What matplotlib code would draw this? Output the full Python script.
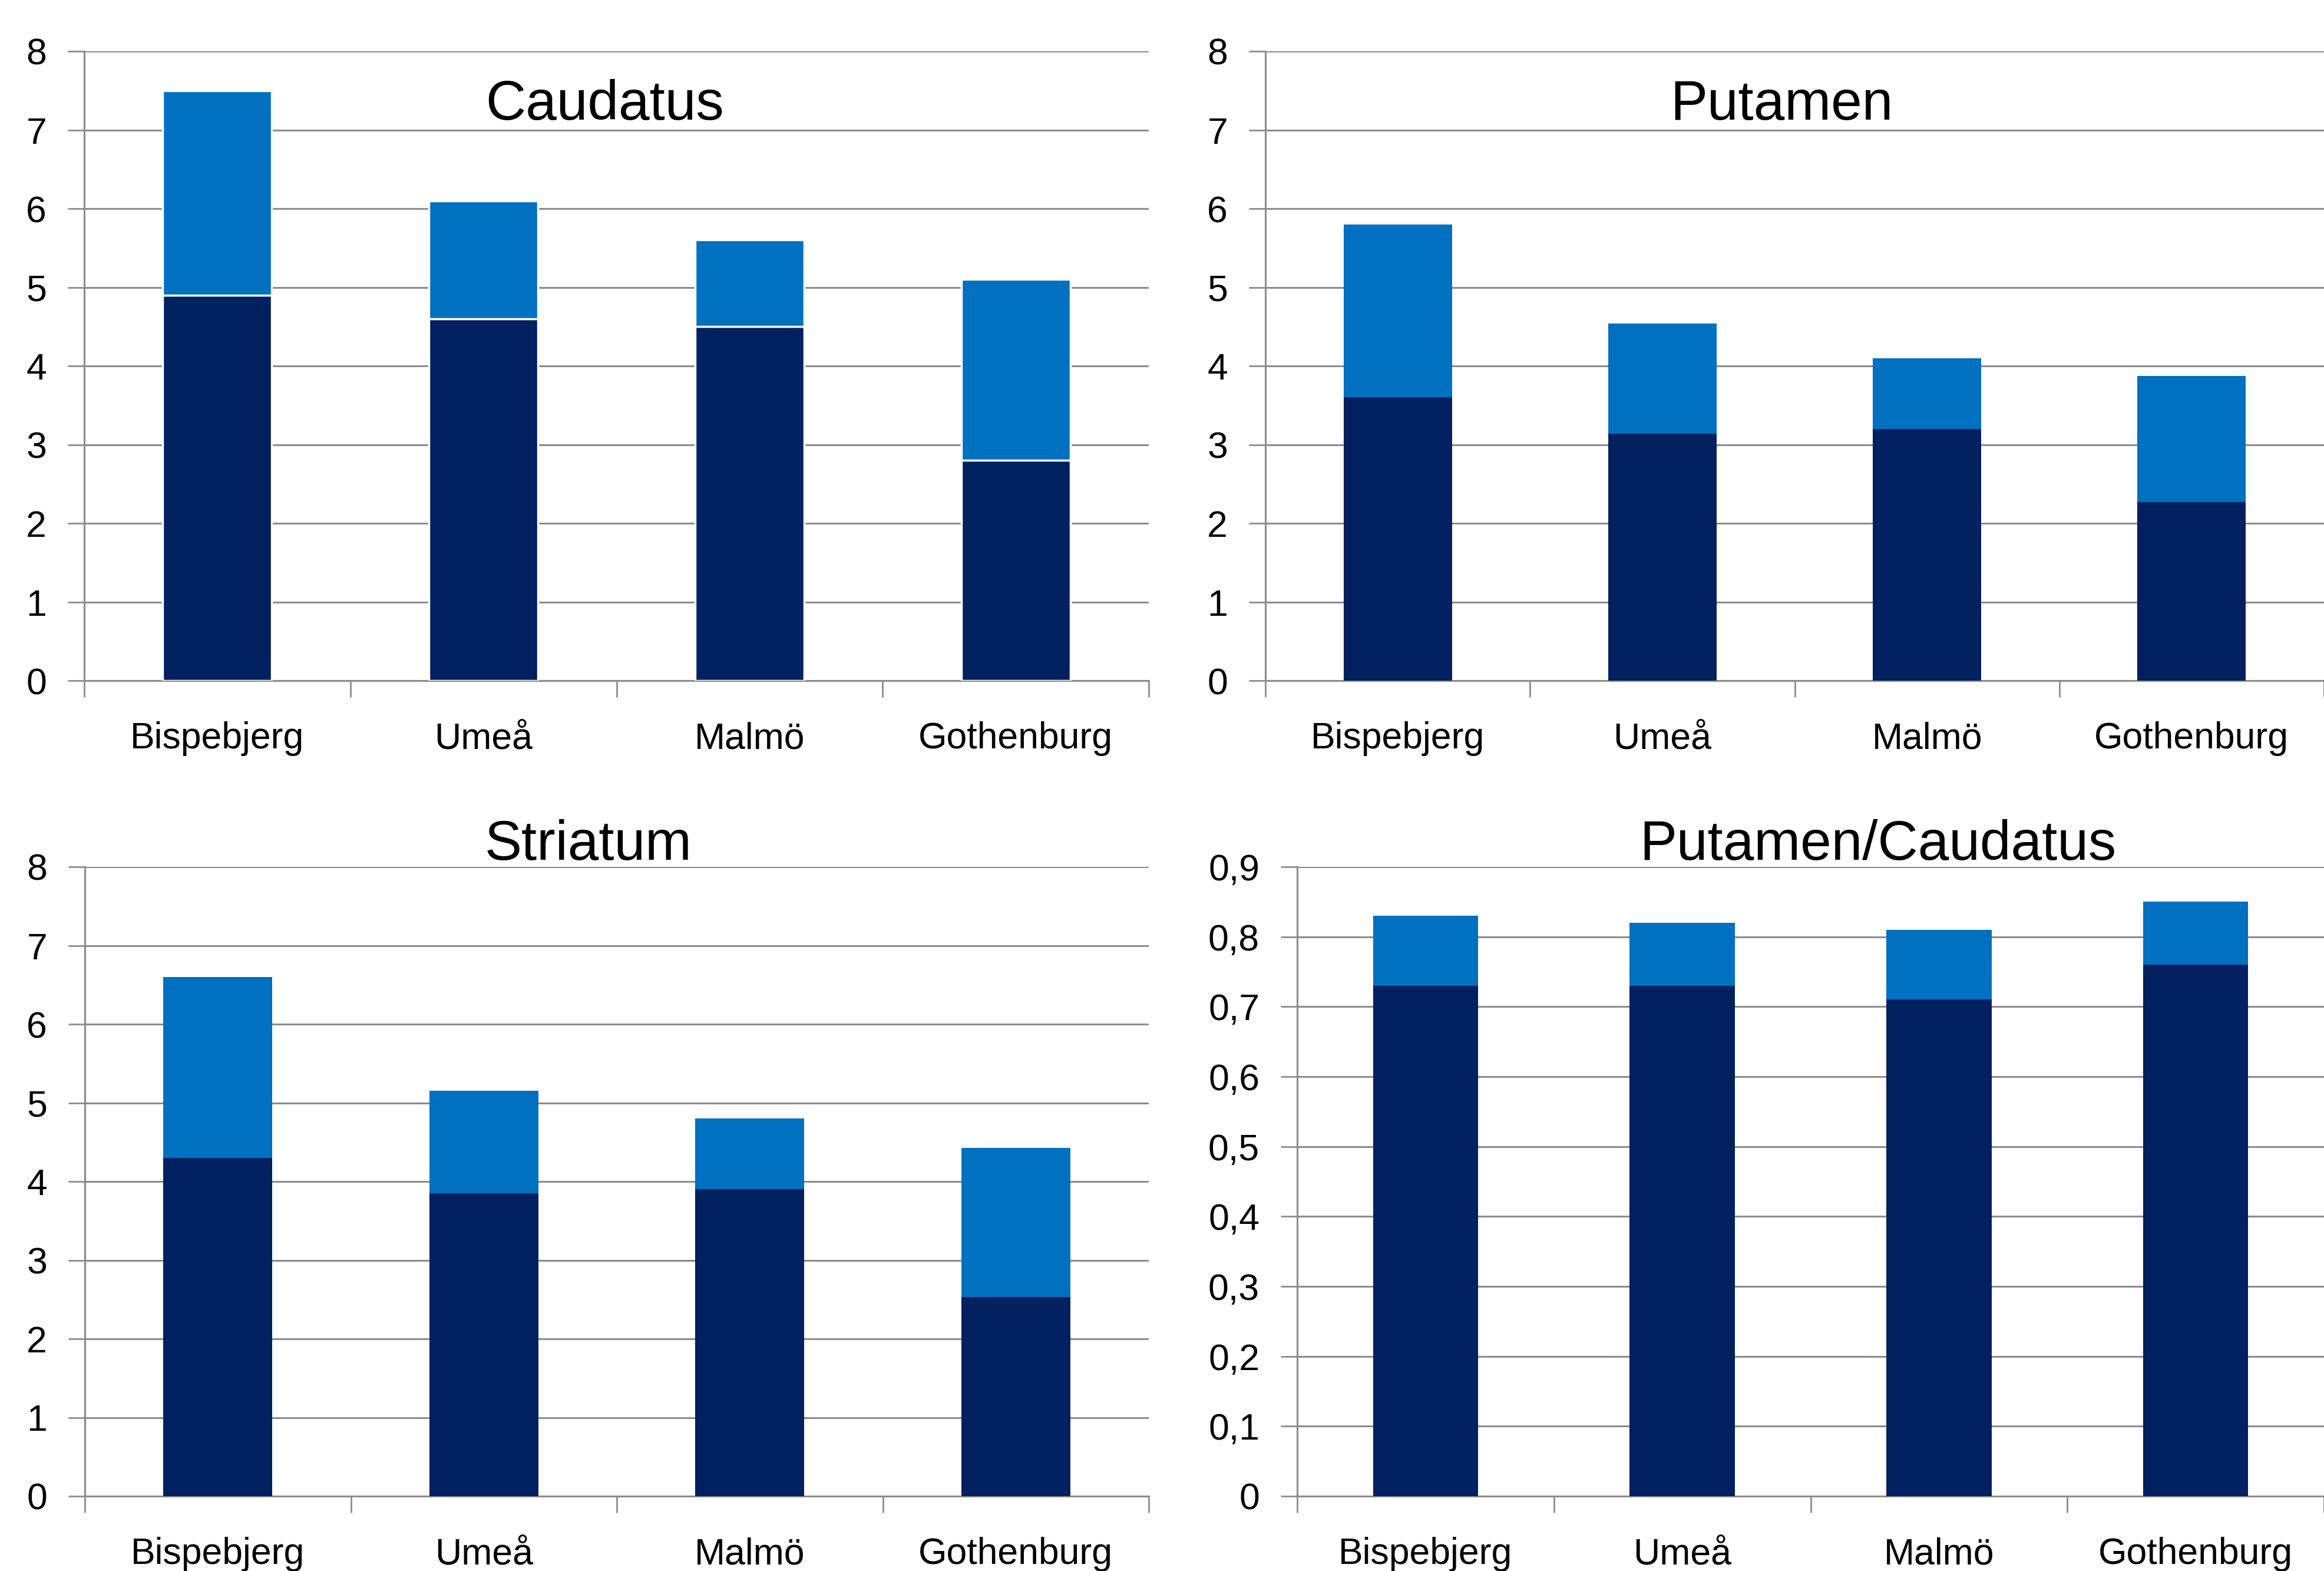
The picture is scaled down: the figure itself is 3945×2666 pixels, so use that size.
"""Four stacked bar panels: Caudatus, Putamen, Striatum and Putamen/Caudatus per site."""

import matplotlib

matplotlib.use("Agg")
import matplotlib.pyplot as plt
from matplotlib.ticker import FixedLocator, FuncFormatter

plt.rcParams["font.family"] = ["Liberation Sans", "DejaVu Sans"]

SITES = ["Bispebjerg", "Umeå", "Malmö", "Gothenburg"]

# lower (dark) segment value and total bar height per site
CAUDATUS_LOW = [4.9, 4.6, 4.5, 2.8]
CAUDATUS_TOP = [7.5, 6.1, 5.6, 5.1]
PUTAMEN_LOW = [3.6, 3.14, 3.2, 2.27]
PUTAMEN_TOP = [5.8, 4.54, 4.1, 3.87]
STRIATUM_LOW = [4.3, 3.85, 3.9, 2.53]
STRIATUM_TOP = [6.6, 5.15, 4.8, 4.43]
RATIO_LOW = [0.73, 0.73, 0.71, 0.76]
RATIO_TOP = [0.83, 0.82, 0.81, 0.85]

DARK = "#002060"
LIGHT = "#0070C0"
GRID = "#8c8c8c"

W, H = 3945, 2666
fig = plt.figure(figsize=(W / 100, H / 100), dpi=100)


def px_axes(x0, x1, y_top, y_bot):
    return fig.add_axes([x0 / W, 1 - y_bot / H, (x1 - x0) / W, (y_bot - y_top) / H])


def panel(ax, low, top, ymax, ystep, comma=False, outline=False):
    x = range(len(SITES))
    upper = [t - l for t, l in zip(top, low)]
    kw = dict(width=0.41, zorder=3)
    if outline:
        kw.update(edgecolor="white", linewidth=2.5)
    ax.bar(x, low, color=DARK, **kw)
    ax.bar(x, upper, bottom=low, color=LIGHT, **kw)

    ax.set_xlim(-0.5, len(SITES) - 0.5)
    ax.set_ylim(0, ymax)
    n = int(round(ymax / ystep))
    ax.yaxis.set_major_locator(FixedLocator([i * ystep for i in range(n + 1)]))
    if comma:
        ax.yaxis.set_major_formatter(
            FuncFormatter(lambda v, _p: "0" if abs(v) < 1e-9 else f"{v:.1f}".replace(".", ","))
        )
    else:
        ax.yaxis.set_major_formatter(FuncFormatter(lambda v, _p: f"{v:.0f}"))

    ax.set_xticks(list(x))
    ax.set_xticklabels(SITES)
    ax.xaxis.set_minor_locator(FixedLocator([i - 0.5 for i in range(len(SITES) + 1)]))
    ax.tick_params(axis="x", which="major", length=0, pad=50, labelsize=45)
    ax.tick_params(axis="x", which="minor", length=20, width=2, color=GRID)
    ax.tick_params(axis="y", length=20, width=2, color=GRID, pad=26, labelsize=45)

    ax.grid(axis="y", color=GRID, linewidth=2.2, zorder=0)
    ax.set_axisbelow(True)
    for s in ("top", "right"):
        ax.spines[s].set_visible(False)
    for s in ("left", "bottom"):
        ax.spines[s].set_color(GRID)
        ax.spines[s].set_linewidth(2.2)


ax1 = px_axes(143, 1950, 87, 1155)
panel(ax1, CAUDATUS_LOW, CAUDATUS_TOP, 8, 1, outline=True)
ax2 = px_axes(2148, 3945, 87, 1155)
panel(ax2, PUTAMEN_LOW, PUTAMEN_TOP, 8, 1)
ax3 = px_axes(144, 1950, 1471, 2539)
panel(ax3, STRIATUM_LOW, STRIATUM_TOP, 8, 1)
ax4 = px_axes(2202, 3945, 1471, 2539)
panel(ax4, RATIO_LOW, RATIO_TOP, 0.9, 0.1, comma=True)

titles = [
    ("Caudatus", 1027, 178),
    ("Putamen", 3024, 178),
    ("Striatum", 999, 1435),
    ("Putamen/Caudatus", 3188, 1435),
]
for text, cx, cy in titles:
    fig.text(cx / W, 1 - cy / H, text, ha="center", va="center", fontsize=68)

fig.savefig("out.png", dpi=100)
